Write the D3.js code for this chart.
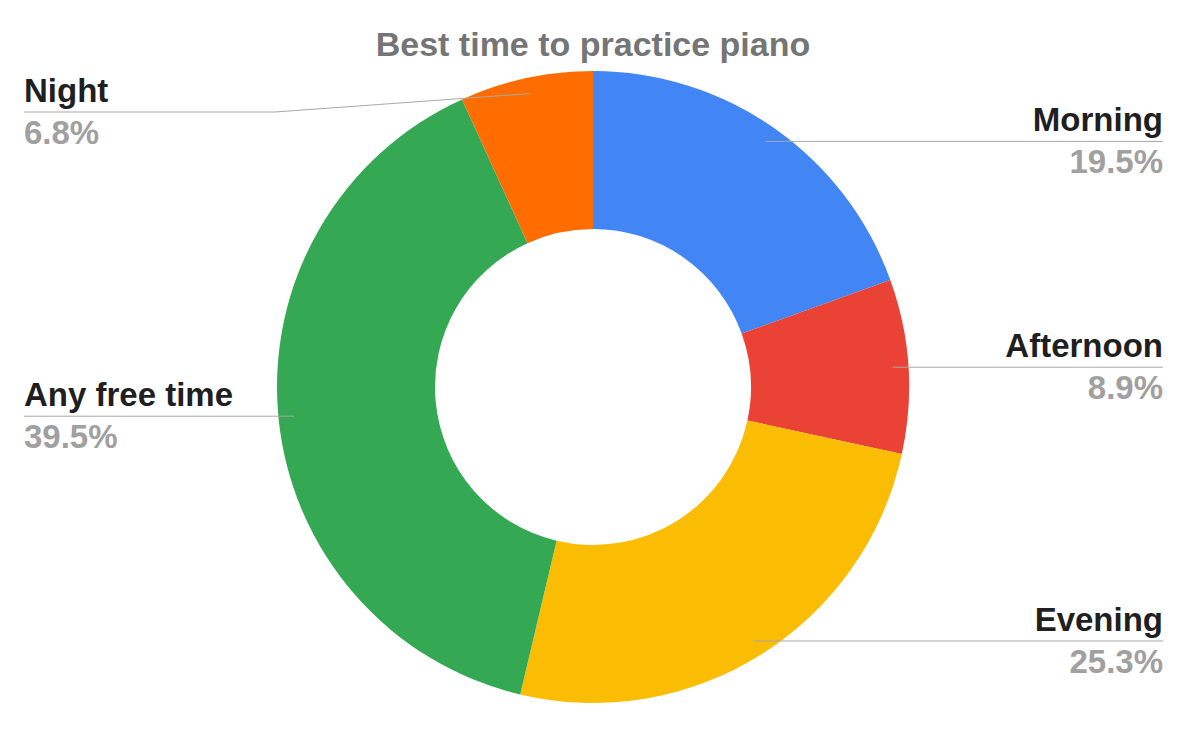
<!DOCTYPE html>
<html>
<head>
<meta charset="utf-8">
<script src="https://cdn.jsdelivr.net/npm/d3@7"></script>
<style>
  html, body { margin: 0; padding: 0; background: #fff; }
  svg text { font-family: "Liberation Sans", Arial, sans-serif; font-weight: bold; }
</style>
</head>
<body>
<svg id="chart" width="1200" height="741"></svg>
<script>
// data
const categories = ["Morning", "Afternoon", "Evening", "Any free time", "Night"];
const shares = [19.5, 8.9, 25.3, 39.5, 6.8];
const sliceColors = ["#4285F4", "#EA4335", "#FBBC04", "#34A853", "#FF6D01"];
const title = "Best time to practice piano";

const svg = d3.select("#chart");

const cx = 593, cy = 387;
const outerR = 316, innerR = 158;
const anchorR = outerR * 0.95;   // where the leader line starts inside the slice
const rightX = 1163, leftX = 24; // text edges
const minLineY = 112;            // labels are kept below the title

svg.append("text")
  .attr("x", cx)
  .attr("y", 56)
  .attr("text-anchor", "middle")
  .attr("font-size", 34)
  .attr("fill", "#757575")
  .text(title);

const rows = categories.map((c, i) => ({ name: c, value: shares[i], color: sliceColors[i] }));

const pie = d3.pie().sort(null).value(d => d.value);
const arc = d3.arc().innerRadius(innerR).outerRadius(outerR);
const anchorArc = d3.arc().innerRadius(anchorR).outerRadius(anchorR);

const g = svg.append("g").attr("transform", `translate(${cx},${cy})`);
const arcs = pie(rows);

g.selectAll("path.slice")
  .data(arcs)
  .join("path")
  .attr("class", "slice")
  .attr("d", arc)
  .attr("fill", d => d.data.color);

// leader lines + labels
const labels = arcs.map(d => {
  const [ax, ay] = anchorArc.centroid(d);
  const mid = (d.startAngle + d.endAngle) / 2;
  const right = mid < Math.PI;
  const lineY = Math.max(cy + ay, minLineY);
  return { d, ax: cx + ax, ay: cy + ay, right, lineY };
});

const lineGen = d3.line();
svg.selectAll("path.leader")
  .data(labels)
  .join("path")
  .attr("class", "leader")
  .attr("fill", "none")
  .attr("stroke", "#a8a8a8")
  .attr("stroke-width", 1)
  .attr("d", l => {
    const endX = l.right ? rightX : leftX;
    const pts = [[l.ax, l.ay]];
    if (Math.abs(l.lineY - l.ay) > 0.5) {
      const kinkX = l.right ? cx + outerR + 2 : cx - outerR - 2;
      pts.push([kinkX, l.lineY]);
    }
    pts.push([endX, l.lineY]);
    return lineGen(pts);
  });

svg.selectAll("text.name")
  .data(labels)
  .join("text")
  .attr("class", "name")
  .attr("x", l => l.right ? rightX : leftX)
  .attr("y", l => l.lineY - 10)
  .attr("text-anchor", l => l.right ? "end" : "start")
  .attr("font-size", 33)
  .attr("fill", "#1f1f1f")
  .text(l => l.d.data.name);

svg.selectAll("text.pct")
  .data(labels)
  .join("text")
  .attr("class", "pct")
  .attr("x", l => l.right ? rightX : leftX)
  .attr("y", l => l.lineY + 32)
  .attr("text-anchor", l => l.right ? "end" : "start")
  .attr("font-size", 33)
  .attr("fill", "#a0a0a0")
  .text(l => l.d.data.value.toFixed(1) + "%");
</script>
</body>
</html>
